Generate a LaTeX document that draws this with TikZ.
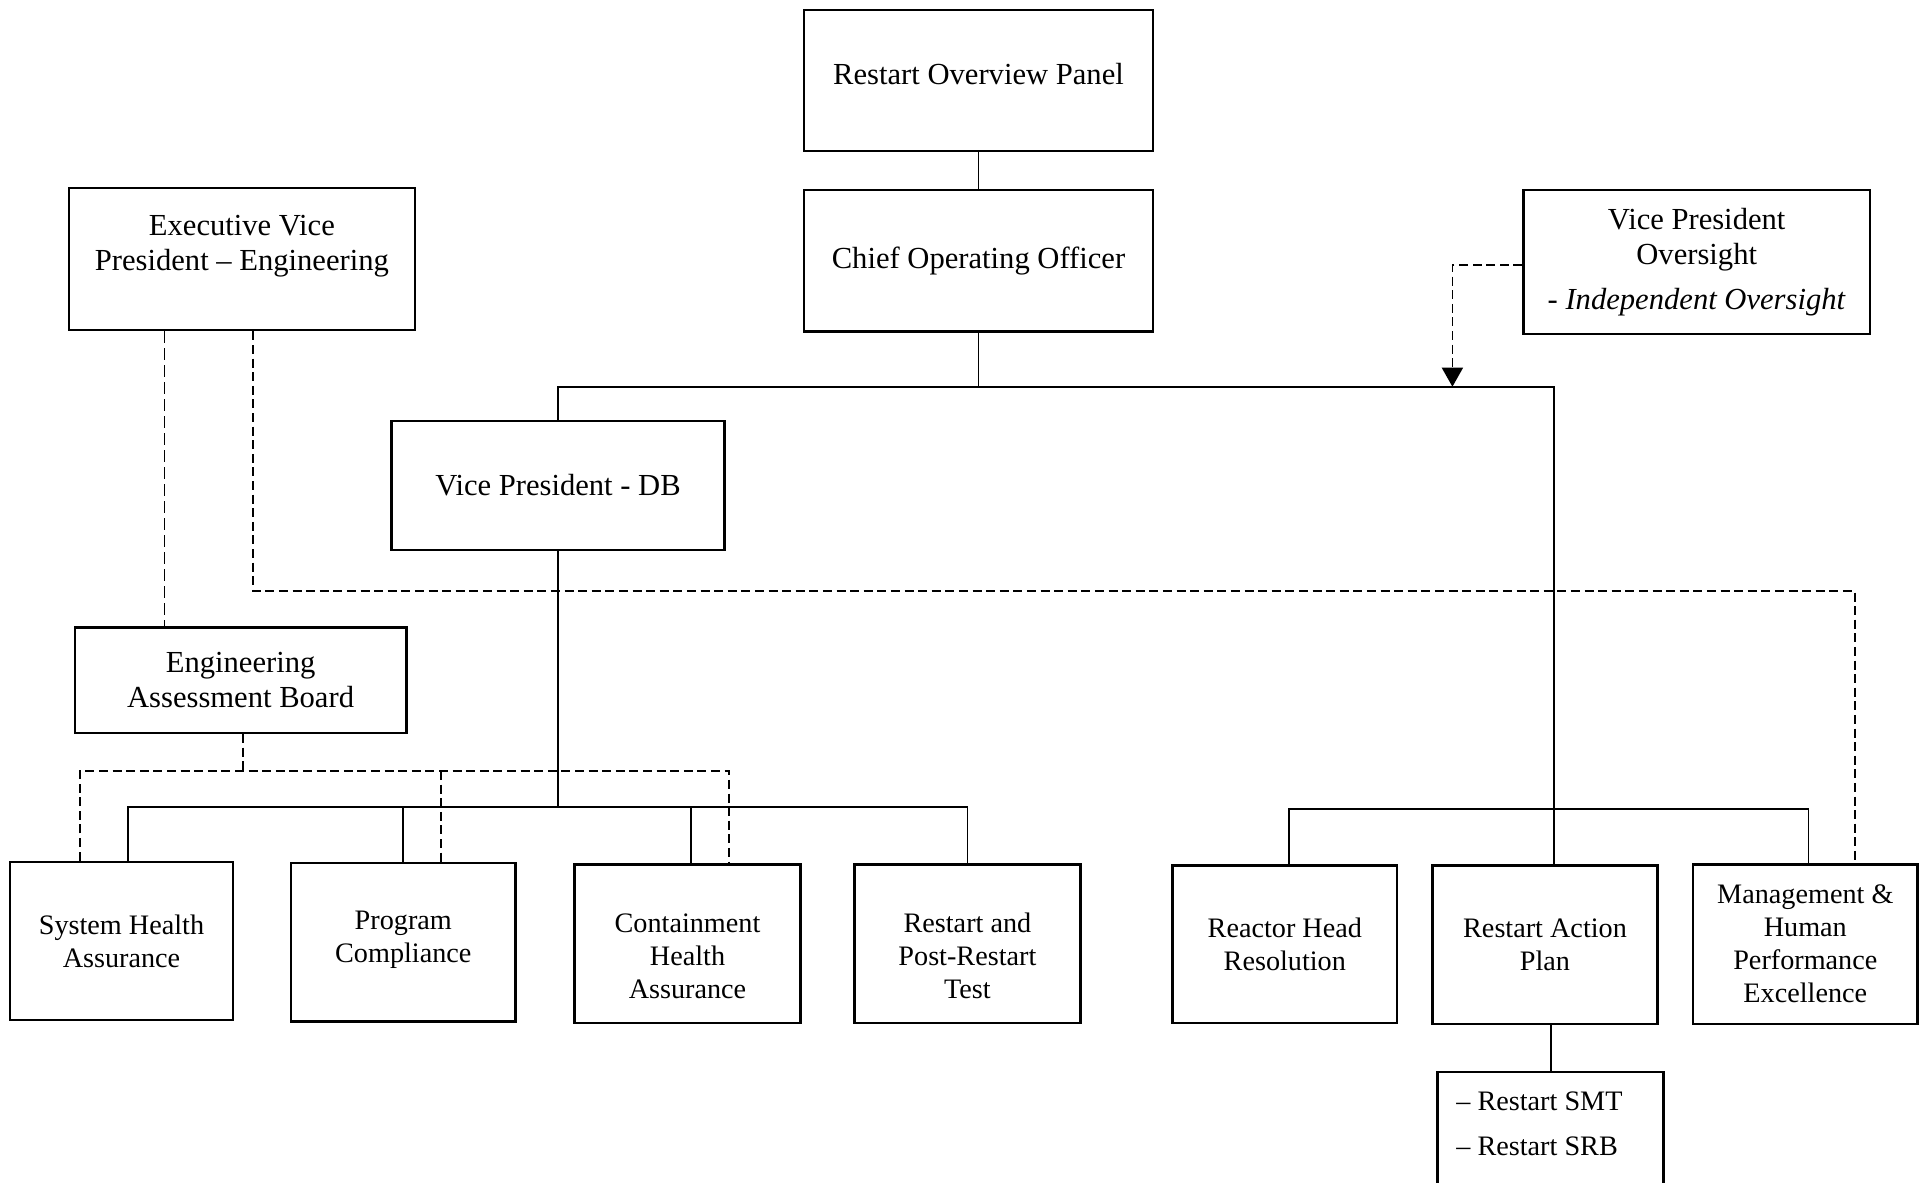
\documentclass[tikz,border=0pt]{standalone}
\usepackage{fontspec}
\setmainfont{Liberation Serif}
\usetikzlibrary{arrows.meta}
\begin{document}
\begin{tikzpicture}[x=0.5pt,y=-0.5pt,
  sz/.style 2 args={minimum width=#1*0.5pt, minimum height=#2*0.5pt},
  box/.style={draw, line width=1.2pt, rectangle, inner sep=0pt, align=center,
    font=\fontsize{15.3}{17.8}\selectfont},
  lowbox/.style={box, font=\fontsize{14.1}{16.5}\selectfont},
  txt/.style={inner sep=0pt, align=center, font=\fontsize{15.3}{17.8}\selectfont},
  lowctxt/.style={inner sep=0pt, align=center, font=\fontsize{14.1}{16.5}\selectfont},
  lowtxt/.style={inner sep=0pt, align=left, font=\fontsize{14.1}{16.5}\selectfont},
  conn/.style={line width=0.9pt},
  dconn/.style={line width=0.9pt, dash pattern=on 4.5pt off 2.3pt},
  ldconn/.style={line width=0.9pt, dash pattern=on 6pt off 2.5pt}]
\useasboundingbox (0,0) rectangle (1925,1182);
\clip (0,0) rectangle (1925,1182);

% top boxes
\node[box, sz={348.6}{141.2}] (rop) at (978.5,80.4) {};
\node[txt] (roptext) at (978.5,74) {Restart Overview Panel};
\node[box, sz={348.6}{141.2}] (coo) at (978.5,260.9) {Chief Operating Officer};
\node[box, sz={346.2}{142.4}] (evp) at (241.9,259) {};
\node[txt] (evptext) at (241.9,246) {Executive Vice\\President -- Engineering};
\node[box, sz={346.2}{143.6}] (vpo) at (1696.7,262.1) {Vice President\\Oversight\\[4.5pt]- \textit{Independent Oversight}};
\node[box, sz={332.7}{128.9}] (vpdb) at (558,485.6) {Vice President - DB};
\node[box, sz={331.5}{105.6}] (eab) at (240.6,680.1) {Engineering\\Assessment Board};

% bottom boxes
\node[lowbox, sz={223.4}{158.4}] (sha) at (121.5,941) {System Health\\Assurance};
\node[lowbox, sz={224.7}{158.4}] (pc) at (403.3,942.2) {};
\node[lowctxt] (pctext) at (403.3,940) {Program\\Compliance};
\node[lowbox, sz={225.9}{158.4}] (cha) at (687.5,943.5) {};
\node[lowctxt] (chatext) at (687.5,956) {Containment\\Health\\Assurance};
\node[lowbox, sz={225.9}{158.4}] (rprt) at (967.4,943.5) {};
\node[lowctxt] (rprttext) at (967.4,956) {Restart and\\Post-Restart\\Test};
\node[lowbox, sz={224.6}{157.2}] (rhr) at (1284.8,944.1) {Reactor Head\\Resolution};
\node[lowbox, sz={224.7}{158.4}] (rap) at (1545,944.7) {Restart Action\\Plan};
\node[lowbox, sz={224.7}{159.6}] (mhpe) at (1805.3,944.1) {Management \&\\Human\\Performance\\Excellence};
\node[box, anchor=north, sz={225.9}{220}] (smt) at (1550.6,1070.6) {};
\node[lowtxt, anchor=west] (smt1) at (1456,1101) {-- Restart SMT};
\node[lowtxt, anchor=west] (smt2) at (1456,1146) {-- Restart SRB};

% solid connectors
\draw[conn] (rop) -- (coo);
\coordinate (busR) at (1554.3,386.7);
\draw[conn] (coo.south) -- (coo.south |- busR);
\draw[conn] (vpdb.north) -- (vpdb.north |- busR) -- (busR) -- (busR |- rap.north);

\coordinate (s1) at (127.7,806.6);
\coordinate (s3) at (691.2,806.6);
\draw[conn] (vpdb.south) -- (vpdb.south |- s1);
\draw[conn] (s1 |- sha.north) -- (s1) -- (rprt.north |- s1) -- (rprt.north);
\draw[conn] (pc.north) -- (pc.north |- s1);
\draw[conn] (s3) -- (s3 |- cha.north);

\coordinate (r1) at (1289,809);
\coordinate (r2) at (1808.4,809);
\draw[conn] (r1 |- rhr.north) -- (r1) -- (r2) -- (r2 |- mhpe.north);
\draw[conn] (smt.north) -- (smt.north |- rap.south);

% oversight arrow
\coordinate (ax) at (1452.4,265);
\draw[dconn, -{Triangle[length=9.5pt, width=10.5pt]}] (vpo.west |- ax) -- (ax) -- (ax |- busR);

% dashed EVP lines
\coordinate (e1) at (164.5,0);
\draw[ldconn] (e1 |- evp.south) -- (e1 |- eab.north);
\coordinate (e2) at (252.9,591);
\coordinate (e3) at (1855,591);
\draw[dconn] (e2 |- evp.south) -- (e2) -- (e3) -- (e3 |- mhpe.north);

% dashed EAB lines
\coordinate (d0) at (243,771);
\coordinate (dL) at (79.8,771);
\coordinate (dM) at (440.7,771);
\coordinate (dR) at (729.3,771);
\draw[dconn] (d0 |- eab.south) -- (d0);
\draw[dconn] (dL |- sha.north) -- (dL) -- (dR) -- (dR |- cha.north);
\draw[dconn] (dM) -- (dM |- pc.north);
\end{tikzpicture}
\end{document}
